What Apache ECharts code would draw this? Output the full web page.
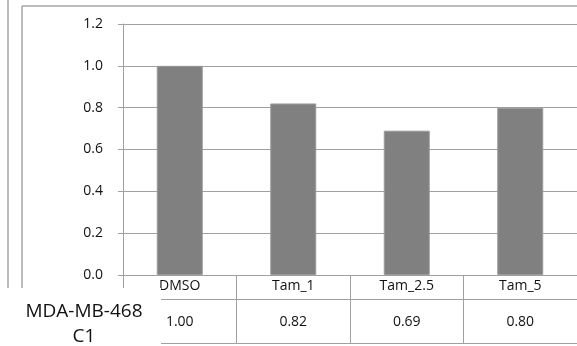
<!DOCTYPE html>
<html>
<head>
<meta charset="utf-8">
<script src="https://cdn.jsdelivr.net/npm/echarts@6/dist/echarts.min.js"></script>
<style>
html,body{margin:0;padding:0;background:#fff;}
#c{width:577px;height:346px;}
</style>
</head>
<body>
<div id="c"></div>
<script>
const categories = ['DMSO', 'Tam_1', 'Tam_2.5', 'Tam_5'];
const values = [1.00, 0.82, 0.69, 0.80];
const seriesName = 'MDA-MB-468\nC1';
const yTicks = [0, 0.2, 0.4, 0.6, 0.8, 1.0, 1.2];

const FONT = 'Open Sans';
const LINE = '#a0a0a0';
const TXT = '#111';

const chart = echarts.init(document.getElementById('c'), null, {renderer: 'canvas'});
chart.setOption({
  animation: false,
  backgroundColor: '#fff',
  grid: [
    {left: 123, right: -4, top: 24, bottom: 71},
    {left: 123, right: -4, top: 275, bottom: 3}
  ],
  xAxis: [
    {
      gridIndex: 0, type: 'category', data: categories,
      axisLine: {show: true, lineStyle: {color: LINE, width: 1}},
      axisTick: {show: false},
      axisLabel: {fontFamily: FONT, fontSize: 14, color: TXT, margin: 4}
    },
    {
      gridIndex: 1, type: 'category', data: values.map(v => v.toFixed(2)),
      axisLine: {show: false},
      axisTick: {show: false},
      splitLine: {show: true, interval: 0, lineStyle: {color: LINE, width: 1}},
      axisLabel: {inside: true, fontFamily: FONT, fontSize: 14, color: TXT, margin: 14, interval: 0}
    }
  ],
  yAxis: [
    {
      gridIndex: 0, type: 'value', min: yTicks[0], max: yTicks[yTicks.length - 1], interval: 0.2,
      axisLine: {show: true, lineStyle: {color: LINE, width: 1}},
      axisTick: {show: true, length: 5, lineStyle: {color: LINE}},
      splitLine: {show: true, lineStyle: {color: LINE, width: 1}},
      axisLabel: {fontFamily: FONT, fontSize: 14, color: TXT, margin: 20, formatter: v => v.toFixed(1)}
    },
    {
      gridIndex: 1, type: 'value', min: 0, max: 68, interval: 44,
      axisLine: {show: false}, axisTick: {show: false}, axisLabel: {show: false},
      splitLine: {show: true, lineStyle: {color: LINE, width: 1}}
    }
  ],
  series: [{
    name: seriesName,
    type: 'bar',
    xAxisIndex: 0, yAxisIndex: 0,
    data: values,
    barWidth: 46,
    itemStyle: {color: '#808080', borderColor: '#9a9a9a', borderWidth: 1}
  }],
  graphic: [
    {type: 'line', z: 100, shape: {x1: 8, y1: 0, x2: 8, y2: 288}, style: {stroke: '#a6a6a6', lineWidth: 1.5}},
    {type: 'line', z: 100, shape: {x1: 22, y1: 6, x2: 22, y2: 288}, style: {stroke: '#a6a6a6', lineWidth: 1.5}},
    {type: 'line', z: 100, shape: {x1: 22, y1: 6, x2: 577, y2: 6}, style: {stroke: '#a6a6a6', lineWidth: 1.5}},
    {type: 'rect', z: 101, shape: {x: 0, y: 288, width: 161, height: 58}, style: {fill: '#fff'}},
    {type: 'text', z: 102, x: 84, y: 299, style: {text: seriesName, fontFamily: FONT, fontSize: 19, fill: '#111', align: 'center', verticalAlign: 'top', lineHeight: 25}}
  ]
});
</script>
</body>
</html>
